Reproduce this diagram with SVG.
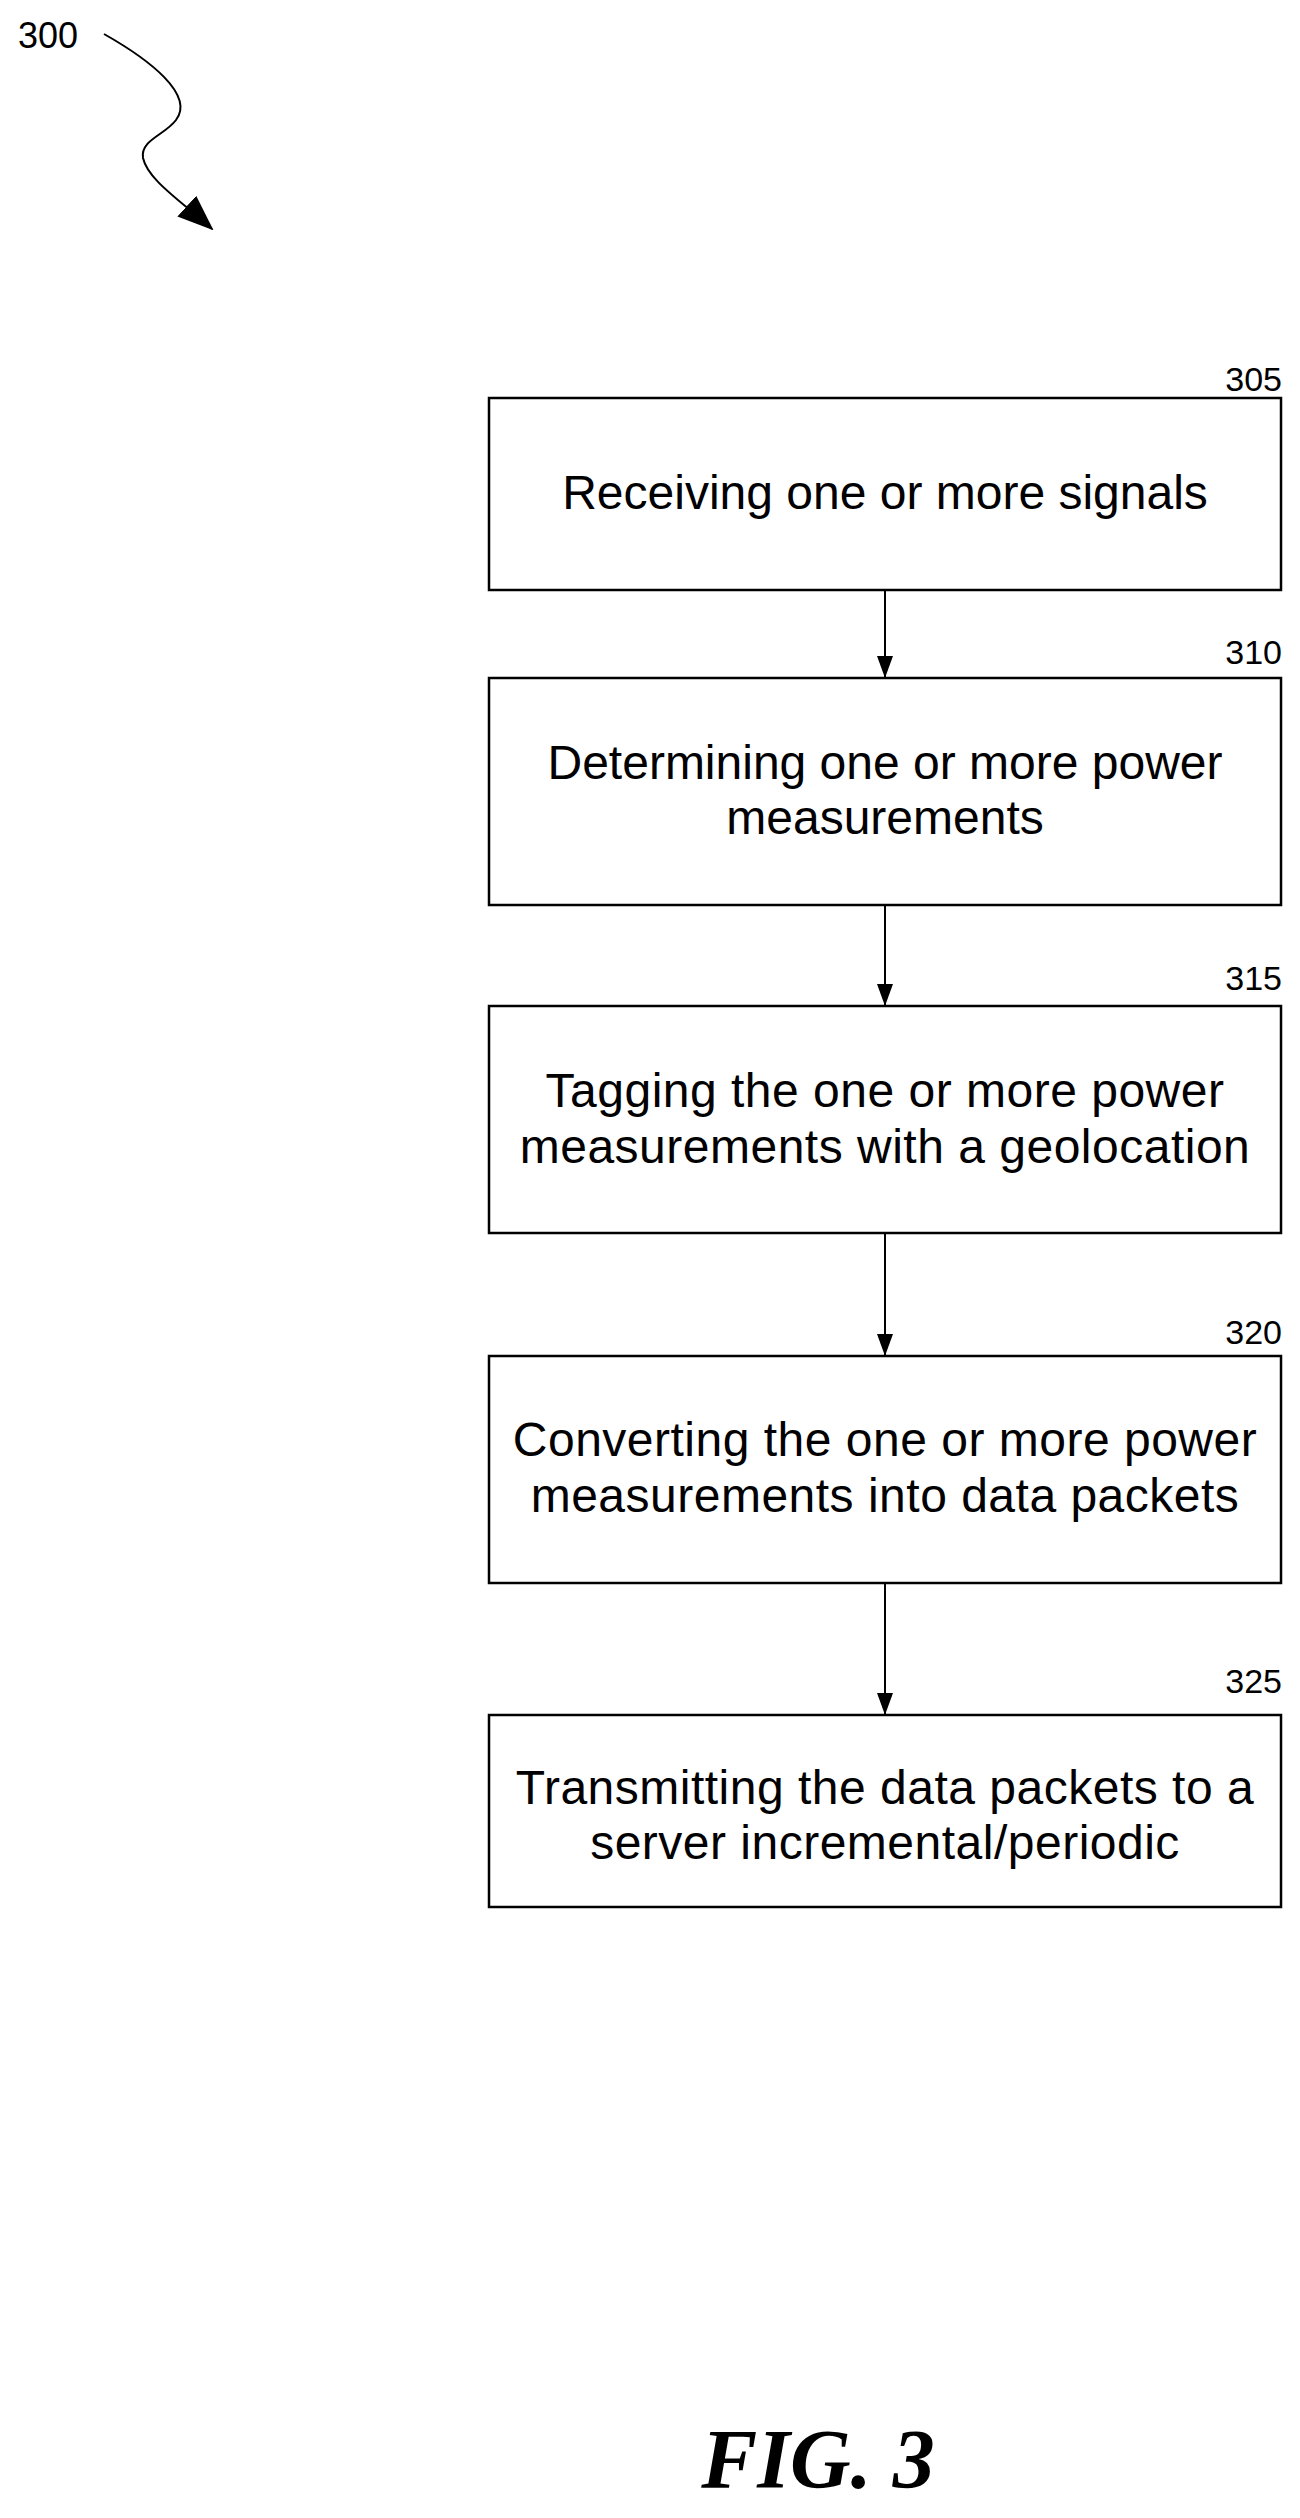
<svg xmlns="http://www.w3.org/2000/svg" width="1300" height="2518" viewBox="0 0 1300 2518">
<style>
.box{fill:#fff;stroke:#000;stroke-width:2.5}
.t{font-family:"Liberation Sans",Arial,sans-serif;font-size:48px;text-anchor:middle;fill:#000}
.n{font-family:"Liberation Sans",Arial,sans-serif;font-size:34px;text-anchor:end;fill:#000}
.c{stroke:#000;stroke-width:2;fill:none}
</style>
<defs>
<marker id="ah" markerWidth="22" markerHeight="16" refX="21" refY="8" orient="auto" markerUnits="userSpaceOnUse" viewBox="0 0 22 16"><path d="M0,0 L22,8 L0,16 Z" fill="#000"/></marker>
<marker id="big" markerWidth="36" markerHeight="28" refX="34" refY="14" orient="auto" markerUnits="userSpaceOnUse" viewBox="0 0 36 28"><path d="M0,0 L36,14 L0,28 Z" fill="#000"/></marker>
</defs>
<rect width="1300" height="2518" fill="#fff"/>
<g id="ref300">
<text x="18" y="48" style="font-family:'Liberation Sans',Arial,sans-serif;font-size:36px">300</text>
<path class="c" d="M104,34 C150,60 195,95 176,120 C165,135 140,140 143,158 C148,180 180,200 212,229" marker-end="url(#big)"/>
</g>
<g id="connectors">
<line class="c" x1="885" y1="591" x2="885" y2="677" marker-end="url(#ah)"/>
<line class="c" x1="885" y1="906" x2="885" y2="1005" marker-end="url(#ah)"/>
<line class="c" x1="885" y1="1234" x2="885" y2="1355" marker-end="url(#ah)"/>
<line class="c" x1="885" y1="1584" x2="885" y2="1714" marker-end="url(#ah)"/>
</g>
<g id="n305"><rect class="box" x="489" y="398" width="792" height="192"/><text class="n" x="1282" y="391">305</text><text class="t" x="885" y="509">Receiving one or more signals</text></g>
<g id="n310"><rect class="box" x="489" y="678" width="792" height="227"/><text class="n" x="1282" y="664">310</text><text class="t" x="885" y="779">Determining one or more power</text><text class="t" x="885" y="834">measurements</text></g>
<g id="n315"><rect class="box" x="489" y="1006" width="792" height="227"/><text class="n" x="1282" y="990">315</text><text class="t" x="885" y="1107" letter-spacing="0.5">Tagging the one or more power</text><text class="t" x="885" y="1163" letter-spacing="0.5">measurements with a geolocation</text></g>
<g id="n320"><rect class="box" x="489" y="1356" width="792" height="227"/><text class="n" x="1282" y="1344">320</text><text class="t" x="885" y="1456" letter-spacing="0.5">Converting the one or more power</text><text class="t" x="885" y="1512" letter-spacing="0.5">measurements into data packets</text></g>
<g id="n325"><rect class="box" x="489" y="1715" width="792" height="192"/><text class="n" x="1282" y="1693">325</text><text class="t" x="885" y="1804" letter-spacing="0.5">Transmitting the data packets to a</text><text class="t" x="885" y="1859" letter-spacing="0.5">server incremental/periodic</text></g>
<text x="818" y="2488" style="font-family:'Liberation Serif','Times New Roman',serif;font-size:84px;font-weight:bold;font-style:italic;text-anchor:middle">FIG. 3</text>
</svg>
